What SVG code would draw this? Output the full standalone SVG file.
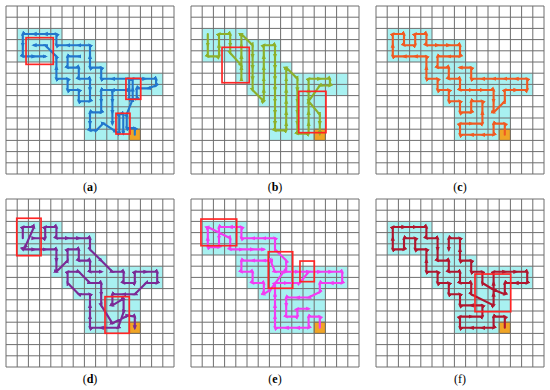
<svg xmlns="http://www.w3.org/2000/svg" xmlns:xlink="http://www.w3.org/1999/xlink" width="550" height="390" viewBox="0 0 550 390">
<style>
.grid{fill:none;stroke:#6e6e6e;stroke-width:1;vector-effect:non-scaling-stroke}
.region{fill:#a8f1f1}
.base{fill:#f0a526;stroke:#c97f0a;stroke-width:1;vector-effect:non-scaling-stroke}
.route{fill:none;stroke-width:0.19;stroke-linejoin:round;stroke-linecap:round}
.box{fill:none;stroke:#ff2525;stroke-width:0.15}
.lbl{font-family:"Liberation Serif","Times New Roman",serif;font-size:12px;fill:#000;text-anchor:middle}
</style>
<defs>
<path id="regionShape" class="region" d="M1 2H5V3H8V5H9V6H14V8H12V11H11V12H7V9H6V8H5V7H4V5H1Z"/>
<rect id="baseCell" class="base" x="11" y="11" width="1" height="1"/>
<path id="gridLines" class="grid" d="M0 0V15M1 0V15M2 0V15M3 0V15M4 0V15M5 0V15M6 0V15M7 0V15M8 0V15M9 0V15M10 0V15M11 0V15M12 0V15M13 0V15M14 0V15M15 0V15M0 0H15M0 1H15M0 2H15M0 3H15M0 4H15M0 5H15M0 6H15M0 7H15M0 8H15M0 9H15M0 10H15M0 11H15M0 12H15M0 13H15M0 14H15M0 15H15"/>
<marker id="mA" viewBox="0 0 10 10" refX="5" refY="5" markerWidth="2.5" markerHeight="2.5" orient="auto"><path d="M0 1L10 5L0 9Z" fill="#2277cc"/></marker>
<marker id="mB" viewBox="0 0 10 10" refX="5" refY="5" markerWidth="2.5" markerHeight="2.5" orient="auto"><path d="M0 1L10 5L0 9Z" fill="#8db02a"/></marker>
<marker id="mC" viewBox="0 0 10 10" refX="5" refY="5" markerWidth="2.5" markerHeight="2.5" orient="auto"><path d="M0 1L10 5L0 9Z" fill="#f05a22"/></marker>
<marker id="mD" viewBox="0 0 10 10" refX="5" refY="5" markerWidth="2.5" markerHeight="2.5" orient="auto"><path d="M0 1L10 5L0 9Z" fill="#7b2a96"/></marker>
<marker id="mE" viewBox="0 0 10 10" refX="5" refY="5" markerWidth="2.5" markerHeight="2.5" orient="auto"><path d="M0 1L10 5L0 9Z" fill="#f23cf2"/></marker>
<marker id="mF" viewBox="0 0 10 10" refX="5" refY="5" markerWidth="2.5" markerHeight="2.5" orient="auto"><path d="M0 1L10 5L0 9Z" fill="#b0162e"/></marker>
</defs>
<rect width="550" height="390" fill="#ffffff"/>

<g id="panel-a">
<g transform="translate(6,6) scale(11.2)"><use xlink:href="#regionShape"/><use xlink:href="#baseCell"/><use xlink:href="#gridLines"/></g>
<g id="connectors-a" transform="translate(11.6,11.6) scale(11.2)">
<path class="route" stroke="#2277cc" marker-mid="url(#mA)" marker-end="url(#mA)" d="M11 11L11 10.4L10.28 10.4L10.28 9.15L10.81 7.83L10.81 6.9L10.81 6L11.9 6L12.9 6L12.9 6.6L12.2 6.85L11.17 6.85L11.17 7.8L10.5 7.8L10.5 6.9L10.5 6L9 6L8 6L8 5L7 5L7 4L7 3L6 3L5 3L4 3L4 2L3 2L2 2L1 2L1 3L1 4L2 4L3 4M10.2 7L9 7L8 7L8 8L8 9L7 9L7 10L7 10.6L7.6 10.57L8.19 9.97L9.32 10.72L9.62 10.85L9.62 9.15L9.97 9.15L9.97 10.85M9 7.2L9 8L9 9L9 10M6 4L5 4L5 5L6 5L6 6L7 6L7 7L7 8L6 8L6 7L5 7L5 6L4 6L4 5L4 4L3 3L2 3"/>
<rect class="box" x="1.29" y="2.33" width="2.43" height="2.38"/>
<rect class="box" x="10.21" y="5.96" width="1.32" height="1.87"/>
<rect class="box" x="9.32" y="9.08" width="1.25" height="1.85"/>
</g>
<text class="lbl" x="90" y="191">(<tspan font-weight="bold">a</tspan>)</text>
</g>

<g id="panel-b">
<g transform="translate(191,6) scale(11.2)"><use xlink:href="#regionShape"/><use xlink:href="#baseCell"/><use xlink:href="#gridLines"/></g>
<g id="connectors-b" transform="translate(196.6,11.6) scale(11.2)">
<path class="route" stroke="#8db02a" marker-mid="url(#mB)" marker-end="url(#mB)" d="M1 2L1 3L1 4L2 4L2 3L2 2L3 2L3 3L3 3.7L4 4.8M4 6L4 5L4 4L4 3L4 2L5 3L5 4L5 5L5 6L5 7L6 8L6 7L6 6L6 5L6 4L6 3L7 3L7 4L7 5L7 6L7 7L7 8L7 9L7 10L7 10.6L8 10.6L8 10L8 9L8 8L8 7L8 6L8 5L9 6L9 7L9 8L9 9L9 10L9 10.9L10 10.9L10 10L10 9L10 8L10 7L10 6L11 6L11.9 6L11.9 6.6L11 6.6L10 8L11 9.2L11 10L11 10.9"/>
<rect class="box" x="2.27" y="3.19" width="2.43" height="3.16"/>
<rect class="box" x="9.12" y="7.12" width="2.43" height="3.69"/>
</g>
<text class="lbl" x="275" y="191">(<tspan font-weight="bold">b</tspan>)</text>
</g>

<g id="panel-c">
<g transform="translate(376,6) scale(11.2)"><use xlink:href="#regionShape"/><use xlink:href="#baseCell"/><use xlink:href="#gridLines"/></g>
<g id="connectors-c" transform="translate(381.6,11.6) scale(11.2)">
<path class="route" stroke="#f05a22" marker-mid="url(#mC)" marker-end="url(#mC)" d="M11 11L11 10L10 10L10 11L9 11L8 11L7 11L7 10L8 10L9 10L9 9L9 8L8 8L8 9L7 9L7 8L6 8L6 7L5 7L5 6L4 6L4 5L4 4L3 4L2 4L1 4L1 3L1 2L2 2L2 3L3 3L3 2L4 2L4 3L5 3L6 3L7 3L7 4L6 4L5 4L5 5L6 5L6 6L7 6L7 7L8 7L9 7L10 7L10 8L10 9L11 8L11 7L12 7L13 7L13 6L12 6L11 6L10 6L9 6L8 6L8 5L7 5"/>
</g>
<text class="lbl" x="460" y="191">(<tspan font-weight="bold">c</tspan>)</text>
</g>

<g id="panel-d">
<g transform="translate(6,199) scale(11.2)"><use xlink:href="#regionShape"/><use xlink:href="#baseCell"/><use xlink:href="#gridLines"/></g>
<g id="connectors-d" transform="translate(11.6,204.6) scale(11.2)">
<path class="route" stroke="#7b2a96" marker-mid="url(#mD)" marker-end="url(#mD)" d="M1 3L1 2L2 2L1.2 3.8L1 4L2 4L3 4L4 4L4 5L4 6L5 5L5 4L6 4L6 5L7 5L7 6L8 6M2 3L3 3L3 2L4 2L4 3L5 3L6 3L7 3L7 4L8 5L9 6L10 6L10 7L11 7L11 6L12 6L13 6L13 7L12 7L11 8L10 8L9 8L9 9L10 8.4L10 9.6L9.5 11L8 11L7 11L7 10L7 9L7 8L6 8L5 7L5 6L6 6L7 7L8 7L8 8L8 9L9 10.6L10.4 9.9L11 10L11 11"/>
<rect class="box" x="0.46" y="1.22" width="2.17" height="3.34"/>
<rect class="box" x="8.34" y="8.22" width="2.17" height="3.27"/>
</g>
<text class="lbl" x="90" y="383">(<tspan font-weight="bold">d</tspan>)</text>
</g>

<g id="panel-e">
<g transform="translate(191,199) scale(11.2)"><use xlink:href="#regionShape"/><use xlink:href="#baseCell"/><use xlink:href="#gridLines"/></g>
<g id="connectors-e" transform="translate(196.6,204.6) scale(11.2)">
<path class="route" stroke="#f23cf2" marker-mid="url(#mE)" marker-end="url(#mE)" d="M11 11L11 10L10 10L10 11L9 11L8 11L7 11L7 10L7 9L7 8L7 7L8 7L9.2 7L10 6L11 6L12 6L13 6L13 7L12 7L11 7L11 7.8L10 8.3L9 8.3L8 8.3L8 9L8 10L9 10L9 9.3L10 9.3M6.6 5L7 6L8 6L9 6L10 6M6.6 5L6 5L5 5L4 5L4 6L5 6L5 7L6 7L6 8L6.6 7.6L8 5.7L8 5L7 4L7 3L6 3L5 3L4 3L4 2L3 2L2 2L2 3L2 3.8L1 3.8L1 3L1 2L3 3L3 4L4 4L5 4L6 4"/>
<rect class="box" x="0.39" y="1.29" width="3.19" height="2.38"/>
<rect class="box" x="6.4" y="4.21" width="2.18" height="3.26"/>
<rect class="box" x="9.23" y="5.04" width="1.28" height="1.84"/>
</g>
<text class="lbl" x="275" y="383">(<tspan font-weight="bold">e</tspan>)</text>
</g>

<g id="panel-f">
<g transform="translate(376,199) scale(11.2)"><use xlink:href="#regionShape"/><use xlink:href="#baseCell"/><use xlink:href="#gridLines"/></g>
<g id="connectors-f" transform="translate(381.6,204.6) scale(11.2)">
<path class="route" stroke="#b0162e" marker-mid="url(#mF)" marker-end="url(#mF)" d="M11 11L11 10L10 10L10 11L9 11L8 11L7 11L7 10L8 10L9 10L9 9L8 9L7 9L7 8L6 8L6 7L5 7L5 6L4 6L4 5L4 4L3 4L3 3L2 3L2 4L1 4L1 3L1 2L2 2L3 2L4 2L4 3L5 3L5 4L5 5L6 5L6 6L7 6L7 7L8 7L8 8L10 9L10 8L10 7L10 6L11 6L12 6L13 6L13 7L12 7L11 7L11 8L10 7.6L9 7L9 6L8 6L8 5L7 5L7 4L7 3L6 3L6 4"/>
<rect class="box" x="8.34" y="6.2" width="3.19" height="3.36"/>
</g>
<text class="lbl" x="460" y="383">(f)</text>
</g>
</svg>
